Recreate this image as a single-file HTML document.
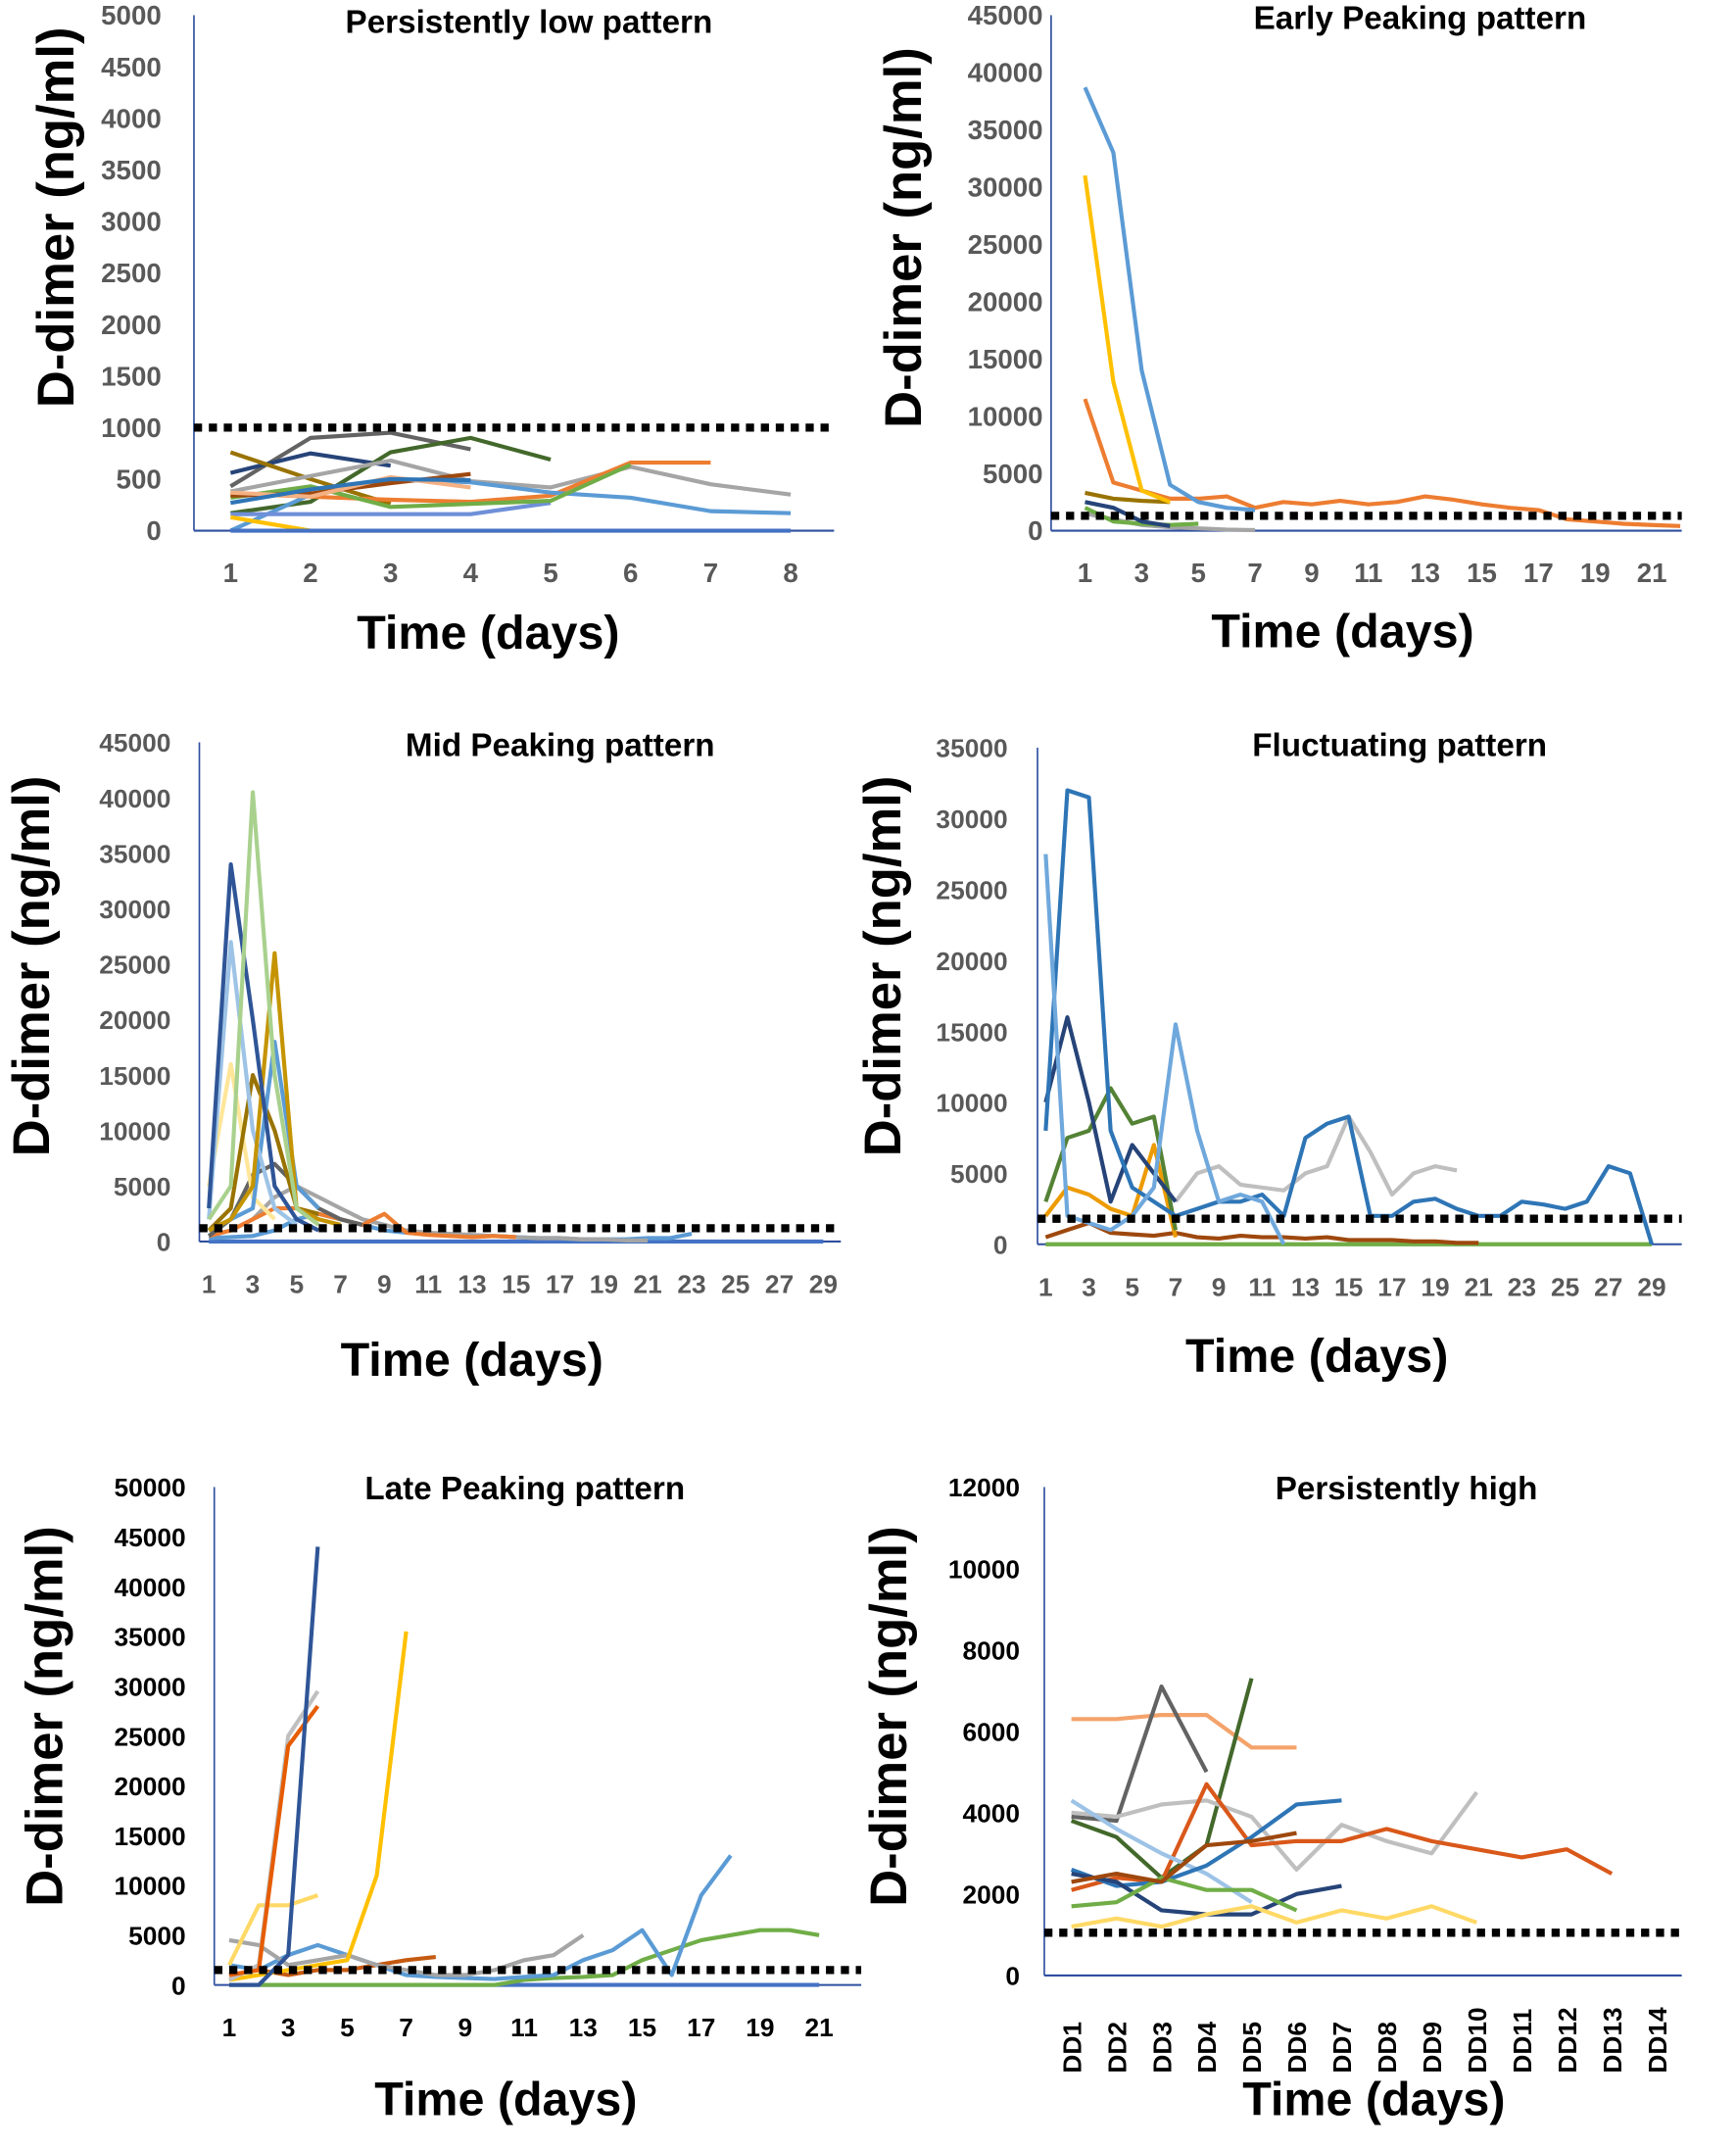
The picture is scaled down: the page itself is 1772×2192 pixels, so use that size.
<!DOCTYPE html>
<html><head><meta charset="utf-8"><style>
html,body{margin:0;padding:0;background:#fff}
svg{display:block}
text{font-family:"Liberation Sans",sans-serif;font-weight:bold}
</style></head><body>
<svg id="fig" width="1772" height="2192" viewBox="0 0 1280 1583" xmlns="http://www.w3.org/2000/svg"></svg>
<script>
// ---- Panel 1: Persistently low ----
const p1Ticks = [0,500,1000,1500,2000,2500,3000,3500,4000,4500,5000];
const p1XLabels = ['1','2','3','4','5','6','7','8'];
const p1Threshold = 1000;
const p1S1 = [430,900,950,790];
const p1S2 = [560,750,630];
const p1S3 = [170,280,760,900,690];
const p1S4 = [760,500,260];
const p1S5 = [380,530,680,480,420,620,450,350];
const p1S6 = [360,330,300,280,340,660,660];
const p1S7 = [0,350,500,470,370,320,190,170];
const p1S8 = [160,160,160,160,270];
const p1S9 = [320,430,230,260,290,640];
const p1S10 = [340,360,460,550];
const p1S11 = [370,330,520,420];
const p1S12 = [130,0,0,0,0];
const p1S13 = [0,0,0,0,0,0,0,0];
const p1S14 = [270,400,500,490];
// ---- Panel 2: Early peaking ----
const p2Ticks = [0,5000,10000,15000,20000,25000,30000,35000,40000,45000];
const p2XLabels = ['1','3','5','7','9','11','13','15','17','19','21'];
const p2Threshold = 1300;
const p2S1 = [38700,33000,14000,4000,2500,2000,1800];
const p2S2 = [31000,13000,3500,2500];
const p2S3 = [11500,4200,3500,2800,2800,3000,2000,2500,2300,2600,2300,2500,3000,2700,2300,2000,1800,1000,800,600,500,400];
const p2S4 = [3300,2800,2600,2500];
const p2S5 = [2500,2000,800,400];
const p2S6 = [2000,800,600,500,600];
const p2S7 = [1500,1000,500,300,200,100,50];
// ---- Panel 3: Mid peaking ----
const p3Ticks = [0,5000,10000,15000,20000,25000,30000,35000,40000,45000];
const p3XLabels = ['1','3','5','7','9','11','13','15','17','19','21','23','25','27','29'];
const p3Threshold = 1200;
const p3S1 = [3000,34000,20000,5000,2000,1000];
const p3S2 = [2000,5000,40500,15000,3000,1500];
const p3S3 = [1000,2000,5000,26000,3000,2000,1500];
const p3S4 = [2000,27000,10000,3000,1500];
const p3S5 = [1000,2000,3000,18000,5000,3000];
const p3S6 = [1000,3000,15000,10000,3000,2500];
const p3S7 = [500,2000,6000,7000,5000,3000,2000,1500];
const p3S8 = [5000,16000,4000,2000];
const p3S9 = [500,1000,2000,3000,3000,2500,2000,1500,2500,800,600,500,400,500,400];
const p3S10 = [500,1000,2000,4000,5000,4000,3000,2000,1500,1000,800,700,600,500,400,300,300,200,200,100,100];
const p3S11 = [300,400,500,1000,2000,2500,2000,1500,1000,800,700,600,500,500,400,300,300,200,200,200,300,300,700];
const p3S12 = [0,0,0,0,0,0,0,0,0,0,0,0,0,0,0,0,0,0,0,0,0,0,0,0,0,0,0,0,0];
// ---- Panel 4: Fluctuating ----
const p4Ticks = [0,5000,10000,15000,20000,25000,30000,35000];
const p4XLabels = ['1','3','5','7','9','11','13','15','17','19','21','23','25','27','29'];
const p4Threshold = 1800;
const p4S1 = [27500,2000,1500,1000,2000,4000,15500,8000,3000,3500,3000,0];
const p4S2 = [8000,32000,31500,8000,4000,3000,2000,2500,3000,3000,3500,2000,7500,8500,9000,2000,2000,3000,3200,2500,2000,2000,3000,2800,2500,3000,5500,5000,0];
const p4S3 = [10000,16000,10000,3000,7000,5000,3000];
const p4S4 = [3000,7500,8000,11000,8500,9000,1000];
const p4S5 = [2000,4000,3500,2500,2000,7000,500];
const p4S6 = [null,null,null,null,null,null,3000,5000,5500,4200,4000,3800,5000,5500,9000,6500,3500,5000,5500,5200];
const p4S7 = [500,1000,1500,800,700,600,800,500,400,600,500,500,400,500,300,300,300,200,200,100,100];
const p4S8 = [0,0,0,0,0,0,0,0,0,0,0,0,0,0,0,0,0,0,0,0,0,0,0,0,0,0,0,0,0];
// ---- Panel 5: Late peaking ----
const p5Ticks = [0,5000,10000,15000,20000,25000,30000,35000,40000,45000,50000];
const p5XLabels = ['1','3','5','7','9','11','13','15','17','19','21'];
const p5Threshold = 1500;
const p5S1 = [0,0,3000,44000];
const p5S2 = [1000,1500,24000,28000];
const p5S3 = [500,2000,25000,29500];
const p5S4 = [2000,8000,8000,9000];
const p5S5 = [500,1000,1500,2000,2500,11000,35500];
const p5S6 = [4500,4000,2000,2500,3000,2000,1500,1000,1000,1500,2500,3000,5000];
const p5S7 = [2000,1500,3000,4000,3000,2000,1000,800,700,600,800,1000,2500,3500,5500,1000,9000,13000];
const p5S8 = [0,0,0,0,0,0,0,0,0,0,500,700,800,1000,2500,3500,4500,5000,5500,5500,5000];
const p5S9 = [1000,1500,1000,1500,1500,2000,2500,2800];
const p5S10 = [0,0,0,0,0,0,0,0,0,0,0,0,0,0,0,0,0,0,0,0,0];
// ---- Panel 6: Persistently high ----
const p6Ticks = [0,2000,4000,6000,8000,10000,12000];
const p6XLabels = ['DD1','DD2','DD3','DD4','DD5','DD6','DD7','DD8','DD9','DD10','DD11','DD12','DD13','DD14'];
const p6Threshold = 1050;
const p6S1 = [6300,6300,6400,6400,5600,5600];
const p6S2 = [3900,3800,7100,5000];
const p6S3 = [3800,3400,2400,3200,7300];
const p6S4 = [4000,3900,4200,4300,3900,2600,3700,3300,3000,4500];
const p6S5 = [2100,2400,2300,4700,3200,3300,3300,3600,3300,3100,2900,3100,2500];
const p6S6 = [4300,3600,3000,2500,1800];
const p6S7 = [2600,2200,2300,2700,3400,4200,4300];
const p6S8 = [2500,2300,1600,1500,1500,2000,2200];
const p6S9 = [1700,1800,2400,2100,2100,1600];
const p6S10 = [1200,1400,1200,1500,1700,1300,1600,1400,1700,1300];
const p6S11 = [2300,2500,2300,3200,3300,3500];

const svg = document.getElementById('fig');
const NS = 'http://www.w3.org/2000/svg';
function mk(tag, attrs){const e=document.createElementNS(NS,tag);for(const k in attrs)e.setAttribute(k,attrs[k]);svg.appendChild(e);return e;}

function panel(id, cfg, ticks, xLabels, thr, series, colors){
  const yMax = ticks[ticks.length-1];
  const ys = v => cfg.y0 - v/yMax*(cfg.y0-cfg.yTop);
  const xs = d => cfg.x1 + d*cfg.dx;
  ticks.forEach(t=>{
    const e=mk('text',{x:cfg.tickX,y:ys(t)+7,'text-anchor':'end','font-size':cfg.tickFs,fill:cfg.tickColor});
    e.textContent=t;
    
    
  });
  xLabels.forEach((l,i)=>{
    const d=i*cfg.labelStep;
    let e;
    if(cfg.rotate){
      e=mk('text',{x:0,y:0,transform:'translate('+(xs(d)+7)+','+(cfg.y0+72)+') rotate(-90)','text-anchor':'start','font-size':19,fill:'#000'});
    } else {
      e=mk('text',{x:xs(d),y:cfg.y0+38,'text-anchor':'middle','font-size':cfg.tickFs,fill:cfg.tickColor});
    }
    e.textContent=l;
    
    
  });
  const ya=mk('line',{x1:cfg.ax,y1:cfg.yTop,x2:cfg.ax,y2:cfg.y0,stroke:'#2f4f9f','stroke-width':1.2});
  
  
  const xa=mk('line',{x1:cfg.ax,y1:cfg.y0,x2:cfg.xEnd,y2:cfg.y0,stroke:'#2f4f9f','stroke-width':1.5});
  
  
  series.forEach((s,si)=>{
    let pts=[];
    const segs=[];
    s.forEach((v,i)=>{ if(v===null){ if(pts.length)segs.push(pts); pts=[]; } else pts.push(xs(i).toFixed(1)+','+ys(v).toFixed(1)); });
    if(pts.length)segs.push(pts);
    segs.forEach(p=>{
      const e=mk('polyline',{points:p.join(' '),fill:'none',stroke:colors[si%colors.length],'stroke-width':3,'stroke-linejoin':'round'});
      
      
    });
  });
  const th=mk('line',{x1:cfg.ax,y1:ys(thr),x2:cfg.xEnd,y2:ys(thr),stroke:'#000','stroke-width':6,'stroke-dasharray':'6 5'});
  
  
  const t=mk('text',{x:cfg.titleX,y:cfg.titleY,'text-anchor':'middle','font-size':24,fill:'#000'});
  t.textContent=cfg.title;
  
  
  const yt=mk('text',{x:0,y:0,transform:'translate('+(cfg.ytX+4)+','+cfg.ytY+') rotate(-90)','text-anchor':'middle','font-size':38,fill:'#000'});
  yt.textContent='D-dimer (ng/ml)';
  
  
  const xt=mk('text',{x:cfg.xtX,y:cfg.xtY,'text-anchor':'middle','font-size':35,fill:'#000'});
  xt.textContent='Time (days)';
  
  
}
const G='#595959';

panel('persistently-low',{y0:391,yTop:11,x1:170,dx:59,ax:143,xEnd:615,tickX:119,tickFs:20,tickColor:G,labelStep:1,
  title:'Persistently low pattern',titleX:390,titleY:24,ytX:50,ytY:160,xtX:360,xtY:478},
  p1Ticks,p1XLabels,p1Threshold,[p1S1,p1S2,p1S3,p1S4,p1S5,p1S6,p1S7,p1S8,p1S9,p1S10,p1S11,p1S12,p1S13,p1S14],
  ['#636363','#264478','#43682B','#997300','#A5A5A5','#ED7D31','#5B9BD5','#6f8fd8','#70AD47','#9E480E','#F4B183','#FFC000','#4472C4','#2e75b6']);

panel('early-peaking',{y0:391,yTop:11,x1:800,dx:20.9,ax:775,xEnd:1240,tickX:769,tickFs:20,tickColor:G,labelStep:2,
  title:'Early Peaking pattern',titleX:1047,titleY:21,ytX:675,ytY:175,xtX:990,xtY:477},
  p2Ticks,p2XLabels,p2Threshold,[p2S7,p2S6,p2S5,p2S4,p2S3,p2S2,p2S1],
  ['#A5A5A5','#70AD47','#264478','#997300','#ED7D31','#FFC000','#5B9BD5']);

panel('mid-peaking',{y0:915,yTop:547,x1:154,dx:16.18,ax:147,xEnd:620,tickX:126,tickFs:19,tickColor:G,labelStep:2,
  title:'Mid Peaking pattern',titleX:413,titleY:557,ytX:32,ytY:712,xtX:348,xtY:1014},
  p3Ticks,p3XLabels,p3Threshold,[p3S12,p3S11,p3S10,p3S9,p3S7,p3S8,p3S6,p3S5,p3S4,p3S3,p3S1,p3S2],
  ['#4472C4','#5B9BD5','#A5A5A5','#ED7D31','#636363','#FFE699','#997300','#5B9BD5','#9DC3E6','#C59400','#2F5597','#A9D18E']);

panel('fluctuating',{y0:917,yTop:551,x1:771,dx:15.96,ax:765,xEnd:1240,tickX:743,tickFs:19,tickColor:G,labelStep:2,
  title:'Fluctuating pattern',titleX:1032,titleY:557,ytX:660,ytY:712,xtX:971,xtY:1011},
  p4Ticks,p4XLabels,p4Threshold,[p4S8,p4S7,p4S6,p4S5,p4S4,p4S3,p4S2,p4S1],
  ['#70AD47','#9E480E','#BFBFBF','#ED9B00','#548235','#264478','#2E75B6','#6FA8DC']);

panel('late-peaking',{y0:1463,yTop:1096,x1:169,dx:21.75,ax:158,xEnd:635,tickX:137,tickFs:19,tickColor:'#000',labelStep:2,
  title:'Late Peaking pattern',titleX:387,titleY:1105,ytX:42,ytY:1265,xtX:373,xtY:1559},
  p5Ticks,p5XLabels,p5Threshold,[p5S10,p5S9,p5S8,p5S7,p5S6,p5S4,p5S5,p5S3,p5S2,p5S1],
  ['#4472C4','#C55A11','#70AD47','#5B9BD5','#A5A5A5','#FFD966','#FFC000','#BFBFBF','#E65C00','#2F5597']);

panel('persistently-high',{y0:1456,yTop:1096,x1:790,dx:33.2,ax:770,xEnd:1240,tickX:752,tickFs:19,tickColor:'#000',labelStep:1,rotate:true,
  title:'Persistently high',titleX:1037,titleY:1105,ytX:664,ytY:1265,xtX:1013,xtY:1559},
  p6Ticks,p6XLabels,p6Threshold,[p6S1,p6S2,p6S3,p6S4,p6S5,p6S6,p6S7,p6S8,p6S9,p6S10,p6S11],
  ['#F4A36B','#636363','#43682B','#BFBFBF','#D9581A','#9DC3E6','#2E75B6','#264478','#70AD47','#FFD966','#9E480E']);
</script>
</body></html>
